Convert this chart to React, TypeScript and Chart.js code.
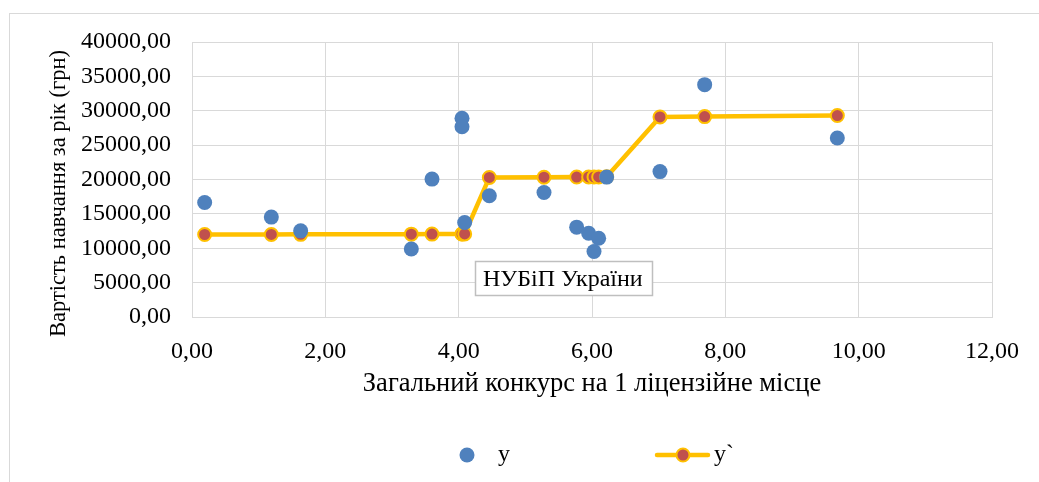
import React, { useEffect, useRef } from "react";
import { Chart, registerables } from "chart.js";

Chart.register(...registerables);

// ---- data ----
const xValues = [0.19, 1.19, 1.63, 3.29, 3.6, 4.05, 4.05, 4.09, 4.46, 5.28, 5.77, 5.95, 6.03, 6.1, 6.22, 7.02, 7.69, 9.68];
const yActual = [16650, 14530, 12530, 9900, 20060, 28900, 27680, 13740, 17630, 18110, 13070, 12190, 9520, 11460, 20350, 21150, 33800, 26030];
const yFitted = [12000, 12010, 12020, 12050, 12060, 12070, 12070, 12080, 20300, 20330, 20360, 20370, 20380, 20380, 20390, 29100, 29150, 29300];
const seriesNames = ["y", "y`"];
const xTitle = "Загальний конкурс на 1 ліцензійне місце";
const yTitle = "Вартість навчання за рік (грн)";
const annotationText = "НУБіП України";

const FONT = "'Liberation Serif', 'Times New Roman', serif";
const BLUE = "#4F81BD";
const RED = "#C0504D";
const GOLD = "#FFC000";
const GRID = "#d9d9d9";

const fmt = (v: number) => v.toFixed(2).replace(".", ",");

export default function App() {
  const ref = useRef<HTMLCanvasElement | null>(null);
  useEffect(() => {
    if (!ref.current) return;
    const decor = {
      id: "decor",
      beforeDraw(chart: any) {
        const ctx = chart.ctx;
        ctx.save();
        ctx.fillStyle = "#fff";
        ctx.fillRect(0, 0, chart.width, chart.height);
        ctx.strokeStyle = GRID;
        ctx.lineWidth = 1;
        ctx.strokeRect(9.5, 13.5, 1200, 800);
        ctx.restore();
      },
      afterDraw(chart: any) {
        const ctx = chart.ctx;
        ctx.save();
        // annotation box
        ctx.fillStyle = "#fff";
        ctx.fillRect(475.5, 261.5, 177, 34);
        ctx.strokeStyle = "#bfbfbf";
        ctx.lineWidth = 1.5;
        ctx.strokeRect(475.5, 261.5, 177, 34);
        ctx.fillStyle = "#000";
        ctx.font = `24px ${FONT}`;
        ctx.textBaseline = "alphabetic";
        ctx.textAlign = "left";
        ctx.fillText(annotationText, 483, 286);
        // legend
        ctx.fillStyle = BLUE;
        ctx.beginPath();
        ctx.arc(467, 455, 7.5, 0, Math.PI * 2);
        ctx.fill();
        ctx.fillStyle = "#000";
        ctx.fillText(seriesNames[0], 498, 461);
        ctx.strokeStyle = GOLD;
        ctx.lineWidth = 4.5;
        ctx.lineCap = "round";
        ctx.beginPath();
        ctx.moveTo(657, 455);
        ctx.lineTo(708, 455);
        ctx.stroke();
        ctx.fillStyle = RED;
        ctx.lineWidth = 2;
        ctx.beginPath();
        ctx.arc(683, 455, 6.5, 0, Math.PI * 2);
        ctx.fill();
        ctx.stroke();
        ctx.fillStyle = "#000";
        ctx.fillText(seriesNames[1], 714, 461);
        ctx.restore();
      },
    };
    const chart = new Chart(ref.current, {
      type: "scatter",
      data: {
        datasets: [
          {
            label: seriesNames[0],
            data: xValues.map((x, i) => ({ x, y: yActual[i] })),
            backgroundColor: BLUE,
            borderWidth: 0,
            pointRadius: 7.5,
            showLine: false,
            order: 0,
          },
          {
            label: seriesNames[1],
            data: xValues.map((x, i) => ({ x, y: yFitted[i] })),
            showLine: true,
            borderColor: GOLD,
            borderWidth: 4.5,
            backgroundColor: RED,
            pointBackgroundColor: RED,
            pointBorderColor: GOLD,
            pointBorderWidth: 2,
            pointRadius: 6.5,
            tension: 0,
            order: 1,
          },
        ],
      },
      options: {
        responsive: false,
        animation: false,
        devicePixelRatio: 1,
        layout: { padding: { left: 41, right: 46, top: 42, bottom: 78 } },
        plugins: { legend: { display: false }, tooltip: { enabled: false } },
        scales: {
          x: {
            type: "linear",
            min: 0,
            max: 12,
            afterFit: (s: any) => { s.height = 87; },
            ticks: { stepSize: 2, padding: 20, color: "#000", font: { family: FONT, size: 24 }, callback: (v: any) => fmt(Number(v)) },
            grid: { color: GRID, drawTicks: false, lineWidth: 1 },
            border: { color: GRID },
            title: { display: true, text: xTitle, color: "#000", font: { family: FONT, size: 26.5 }, padding: 4 },
          },
          y: {
            min: 0,
            max: 40000,
            afterFit: (s: any) => { s.width = 151; },
            ticks: { stepSize: 5000, padding: 21, color: "#000", font: { family: FONT, size: 24 }, callback: (v: any) => fmt(Number(v)) },
            grid: { color: GRID, drawTicks: false, lineWidth: 1 },
            border: { color: GRID },
            title: { display: true, text: yTitle + "     ", color: "#000", font: { family: FONT, size: 22.5 }, padding: 5 },
          },
        },
      },
      plugins: [decor],
    } as any);
    return () => chart.destroy();
  }, []);
  return (
    <div style={{ position: "absolute", left: 0, top: 0, width: 1039, height: 482 }}>
      <canvas ref={ref} width={1039} height={482} style={{ width: 1039, height: 482, display: "block" }} />
    </div>
  );
}
